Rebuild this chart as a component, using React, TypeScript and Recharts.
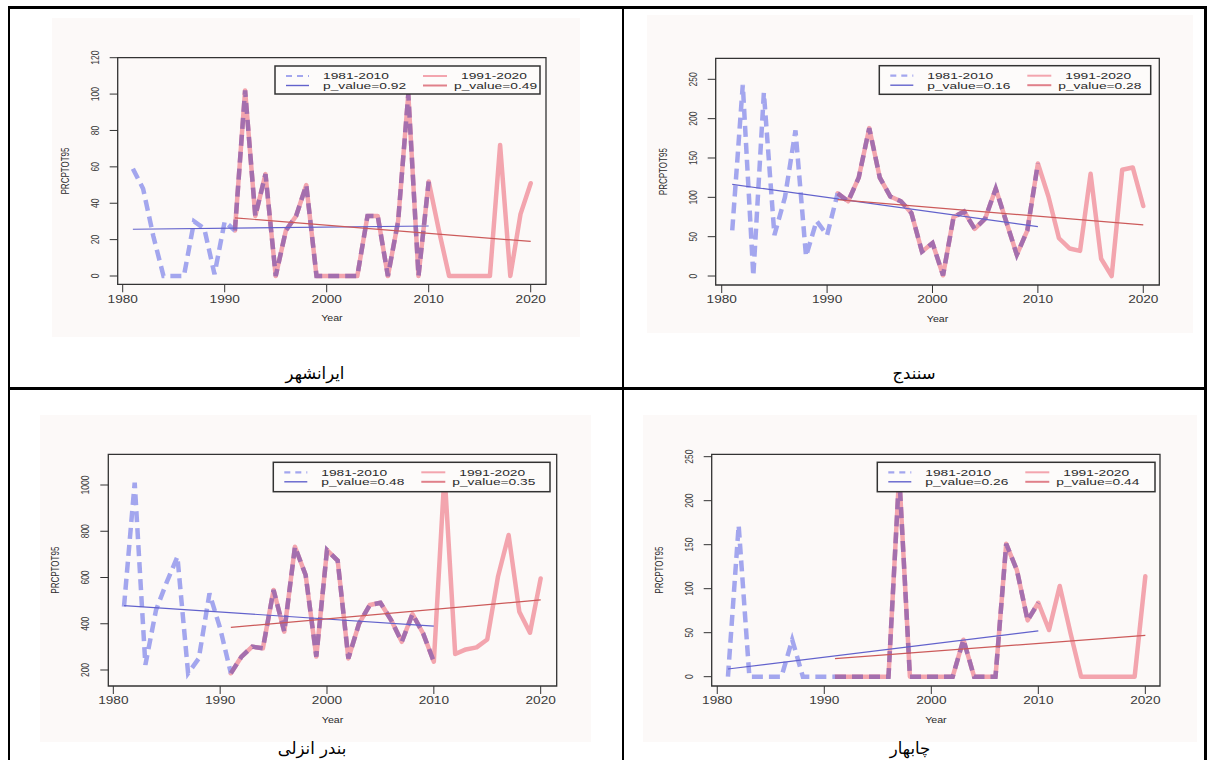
import React from "react";
import { LineChart, Line, XAxis, YAxis, ReferenceArea } from "recharts";

// ---- data ----
const YEARS_A = [1981, 1982, 1983, 1984, 1985, 1986, 1987, 1988, 1989, 1990, 1991, 1992, 1993, 1994, 1995, 1996, 1997, 1998, 1999, 2000, 2001, 2002, 2003, 2004, 2005, 2006, 2007, 2008, 2009, 2010];
const YEARS_B = [1991, 1992, 1993, 1994, 1995, 1996, 1997, 1998, 1999, 2000, 2001, 2002, 2003, 2004, 2005, 2006, 2007, 2008, 2009, 2010, 2011, 2012, 2013, 2014, 2015, 2016, 2017, 2018, 2019, 2020];
const X_TICKS = [1980, 1990, 2000, 2010, 2020];
const PERIODS = ["1981-2010", "1991-2020"];
const STATIONS = ["ایرانشهر", "سنندج", "بندر انزلی", "چابهار"];

const IRANSHAHR_A = [59, 48, 22, 0, 0, 0, 30, 26, 1, 30, 25, 102, 33, 56, 0, 25, 33, 50, 0, 0, 0, 0, 0, 33, 33, 0, 30, 100, 0, 52];
const IRANSHAHR_B = [25, 102, 33, 56, 0, 25, 33, 50, 0, 0, 0, 0, 0, 33, 33, 0, 30, 100, 0, 52, 25, 0, 0, 0, 0, 0, 72, 0, 34, 51];
const IRANSHAHR_TREND_A = [25.7, 27.5];
const IRANSHAHR_TREND_B = [32, 19];
const IRANSHAHR_P = ["0.92", "0.49"];
const IRANSHAHR_Y_TICKS = [0, 20, 40, 60, 80, 100, 120];

const SANANDAJ_A = [58, 243, 0, 233, 52, 100, 185, 25, 70, 52, 105, 95, 125, 188, 125, 101, 95, 80, 31, 42, 1, 75, 82, 60, 73, 111, 69, 27, 58, 143];
const SANANDAJ_B = [105, 95, 125, 188, 125, 101, 95, 80, 31, 42, 1, 75, 82, 60, 73, 111, 69, 27, 58, 143, 101, 48, 35, 32, 130, 22, 0, 135, 138, 89];
const SANANDAJ_TREND_A = [116.5, 62.7];
const SANANDAJ_TREND_B = [97, 65];
const SANANDAJ_P = ["0.16", "0.28"];
const SANANDAJ_Y_TICKS = [0, 50, 100, 150, 200, 250];

const ANZALI_A = [474, 1010, 222, 460, 580, 690, 186, 250, 531, 380, 186, 258, 301, 294, 546, 366, 733, 611, 258, 719, 673, 250, 401, 481, 491, 416, 322, 442, 358, 236];
const ANZALI_B = [186, 258, 301, 294, 546, 366, 733, 611, 258, 719, 673, 250, 401, 481, 491, 416, 322, 442, 358, 236, 1050, 269, 289, 298, 332, 603, 784, 452, 361, 596];
const ANZALI_TREND_A = [478, 390];
const ANZALI_TREND_B = [384, 503];
const ANZALI_P = ["0.48", "0.35"];
const ANZALI_Y_TICKS = [200, 400, 600, 800, 1000];

const CHABAHAR_A = [0, 172, 0, 0, 0, 0, 42, 0, 0, 0, 0, 0, 0, 0, 0, 0, 230, 0, 0, 0, 0, 0, 42, 0, 0, 0, 151, 121, 64, 84];
const CHABAHAR_B = [0, 0, 0, 0, 0, 0, 230, 0, 0, 0, 0, 0, 42, 0, 0, 0, 151, 121, 64, 84, 53, 103, 50, 0, 0, 0, 0, 0, 0, 114];
const CHABAHAR_TREND_A = [8.7, 52];
const CHABAHAR_TREND_B = [20.5, 47];
const CHABAHAR_P = ["0.26", "0.44"];
const CHABAHAR_Y_TICKS = [0, 50, 100, 150, 200, 250];

// ---- look ----
const FONT = "'Liberation Sans', Arial, Helvetica, sans-serif";
const BG = "#fcf9f8";
const PINK = "#f3a5ae";
const LAVENDER = "#a3a6ee";
const OVERLAP = "#a46fae"; // lavender dashes seen over the pink line
const TREND_BLUE = "#6262cc";
const TREND_RED = "#cc5a5a";

// page-pixel layout of each panel: bg / plot box / legend are [left, top, right, bottom]
const PANELS = [
  { name: STATIONS[0], a: IRANSHAHR_A, b: IRANSHAHR_B, ta: IRANSHAHR_TREND_A, tb: IRANSHAHR_TREND_B, p: IRANSHAHR_P, yTicks: IRANSHAHR_Y_TICKS,
    bg: [52, 18, 580, 337], box: [117.7, 57.7, 546, 284.3], xDomain: [1979.51, 2021.5], yDomain: [-4.56, 120], legend: [275, 66, 540, 94] },
  { name: STATIONS[1], a: SANANDAJ_A, b: SANANDAJ_B, ta: SANANDAJ_TREND_A, tb: SANANDAJ_TREND_B, p: SANANDAJ_P, yTicks: SANANDAJ_Y_TICKS,
    bg: [647, 15, 1193, 333], box: [715.7, 58.3, 1159.3, 285], xDomain: [1979.43, 2021.52], yDomain: [-11.4, 276.7], legend: [879.3, 65.7, 1150.7, 94.3] },
  { name: STATIONS[2], a: ANZALI_A, b: ANZALI_B, ta: ANZALI_TREND_A, tb: ANZALI_TREND_B, p: ANZALI_P, yTicks: ANZALI_Y_TICKS,
    bg: [40, 415, 591, 742], box: [108.3, 454.3, 556.7, 686], xDomain: [1979.53, 2021.5], yDomain: [130.8, 1132.8], legend: [273.3, 462.3, 550, 491.7] },
  { name: STATIONS[3], a: CHABAHAR_A, b: CHABAHAR_B, ta: CHABAHAR_TREND_A, tb: CHABAHAR_TREND_B, p: CHABAHAR_P, yTicks: CHABAHAR_Y_TICKS,
    bg: [643, 415, 1197, 742], box: [711.7, 454.3, 1160, 686], xDomain: [1979.48, 2021.37], yDomain: [-10.6, 252.7], legend: [877.3, 462.3, 1155, 491.7] },
];

const toRows = (years: number[], vals: number[]) => years.map((year, i) => ({ year, v: vals[i] }));
const trendRows = (years: number[], ends: number[]) => [
  { year: years[0], v: ends[0] },
  { year: years[years.length - 1], v: ends[1] },
];

function XTick(props: any) {
  const { x, y, payload } = props;
  return (
    <text transform={`translate(${x},${y}) scale(1.3,1)`} dy="0.71em" textAnchor="middle"
      fontFamily={FONT} fontSize={10.5} fill="#3a3a3a">
      {payload.value}
    </text>
  );
}

function YTick(props: any) {
  const { x, y, payload } = props;
  return (
    <text transform={`translate(${x},${y}) rotate(-90) scale(1,1.3)`} textAnchor="middle"
      fontFamily={FONT} fontSize={8.5} fill="#3a3a3a">
      {payload.value}
    </text>
  );
}

function Panel({ cfg }: { cfg: any }) {
  const [bl, bt, br, bb] = cfg.bg;
  const [xl, yt, xr, yb] = cfg.box;
  const [lx1, ly1, lx2, ly2] = cfg.legend;
  const w = br - bl;
  const h = bb - bt;
  const cx = (xl + xr) / 2;
  const cy = (yt + yb) / 2;
  const txt = { fontFamily: FONT, fill: "#2a2a2a" };
  const rowsA = toRows(YEARS_A, cfg.a);
  const firstShared = YEARS_A.indexOf(YEARS_B[0]);
  const rowsAOwn = rowsA.slice(0, firstShared + 1);
  const rowsAShared = rowsA.slice(firstShared);
  return (
    <div style={{ position: "absolute", left: bl, top: bt, width: w, height: h, background: BG }}>
      <LineChart width={w} height={h} margin={{ top: yt - bt, right: br - xr, bottom: 0, left: 0 }}>
        <XAxis type="number" dataKey="year" domain={cfg.xDomain} allowDataOverflow ticks={X_TICKS} interval={0}
          height={bb - yb} axisLine={false} tickLine={{ stroke: "#333" }} tickSize={8} tickMargin={3} tick={<XTick />} />
        <YAxis type="number" domain={cfg.yDomain} allowDataOverflow ticks={cfg.yTicks} interval={0}
          width={xl - bl} axisLine={false} tickLine={{ stroke: "#333" }} tickSize={8} tickMargin={11} tick={<YTick />} />
        <Line data={toRows(YEARS_B, cfg.b)} dataKey="v" stroke={PINK} strokeWidth={4.5} dot={false}
          strokeLinejoin="round" strokeLinecap="round" isAnimationActive={false} />
        <Line data={rowsAOwn} dataKey="v" stroke={LAVENDER} strokeWidth={4.5}
          strokeDasharray="11 6" dot={false} isAnimationActive={false} />
        <Line data={rowsAShared} dataKey="v" stroke={OVERLAP} strokeWidth={4.5}
          strokeDasharray="11 6" dot={false} isAnimationActive={false} />
        <Line data={trendRows(YEARS_A, cfg.ta)} dataKey="v" stroke={TREND_BLUE} strokeWidth={1.2} dot={false} isAnimationActive={false} />
        <Line data={trendRows(YEARS_B, cfg.tb)} dataKey="v" stroke={TREND_RED} strokeWidth={1.2} dot={false} isAnimationActive={false} />
        <ReferenceArea x1={cfg.xDomain[0]} x2={cfg.xDomain[1]} y1={cfg.yDomain[0]} y2={cfg.yDomain[1]}
          fill="none" fillOpacity={0} stroke="#333" strokeWidth={1.3} ifOverflow="visible" />
      </LineChart>
      <svg width={w} height={h} style={{ position: "absolute", left: 0, top: 0, pointerEvents: "none" }}>
        <g transform={`translate(${-bl},${-bt})`}>
          <text transform={`translate(${cx},${yb + 36.5}) scale(1.25,1)`} textAnchor="middle" fontSize={8.5} {...txt}>Year</text>
          <text transform={`translate(${xl - 49},${cy}) rotate(-90) scale(1,1.35)`} textAnchor="middle" fontSize={8} {...txt}>PRCPTOT95</text>
          <rect x={lx1} y={ly1} width={lx2 - lx1} height={ly2 - ly1} fill="#fdfbfa" stroke="#333" strokeWidth={1.5} />
          <line x1={lx1 + 11} x2={lx1 + 34} y1={ly1 + 10} y2={ly1 + 10} stroke={LAVENDER} strokeWidth={2.2} strokeDasharray="6 5" />
          <line x1={lx1 + 11} x2={lx1 + 34} y1={ly1 + 19.5} y2={ly1 + 19.5} stroke={TREND_BLUE} strokeWidth={1.4} />
          <line x1={lx1 + 148} x2={lx1 + 172} y1={ly1 + 10} y2={ly1 + 10} stroke={PINK} strokeWidth={2} />
          <line x1={lx1 + 148} x2={lx1 + 172} y1={ly1 + 19.5} y2={ly1 + 19.5} stroke="#e0808a" strokeWidth={2} />
          <text transform={`translate(${lx1 + 48},${ly1 + 13.3}) scale(1.45,1)`} fontSize={9.5} {...txt}>{PERIODS[0]}</text>
          <text transform={`translate(${lx1 + 48},${ly1 + 22.8}) scale(1.45,1)`} fontSize={9.5} {...txt}>{`p_value=${cfg.p[0]}`}</text>
          <text transform={`translate(${lx1 + 186},${ly1 + 13.3}) scale(1.45,1)`} fontSize={9.5} {...txt}>{PERIODS[1]}</text>
          <text transform={`translate(${lx1 + 179},${ly1 + 22.8}) scale(1.45,1)`} fontSize={9.5} {...txt}>{`p_value=${cfg.p[1]}`}</text>
        </g>
      </svg>
    </div>
  );
}

const rule = (left: number, top: number, width: number, height: number) => (
  <div style={{ position: "absolute", left, top, width, height, background: "#000" }} />
);

const CELL_LABELS = [
  { x: 315, y: 374 },
  { x: 914, y: 374 },
  { x: 312, y: 749 },
  { x: 910, y: 749 },
];

export default function App() {
  return (
    <div style={{ position: "absolute", left: 0, top: 0, width: 1214, height: 760, background: "#fff", overflow: "hidden" }}>
      {PANELS.map((cfg, i) => <Panel key={i} cfg={cfg} />)}
      {rule(7.5, 6, 1199, 2.5)}
      {rule(7.5, 6, 2.5, 760)}
      {rule(1204, 6, 2.5, 760)}
      {rule(621.5, 6, 2.5, 760)}
      {rule(7.5, 387, 1199, 2.5)}
      {CELL_LABELS.map((pos, i) => (
        <div key={i} dir="rtl" style={{ position: "absolute", left: pos.x - 100, top: pos.y - 10, width: 200, textAlign: "center",
          fontFamily: "'DejaVu Sans', sans-serif", fontSize: 16.5, lineHeight: "20px", color: "#000" }}>
          {STATIONS[i]}
        </div>
      ))}
    </div>
  );
}
